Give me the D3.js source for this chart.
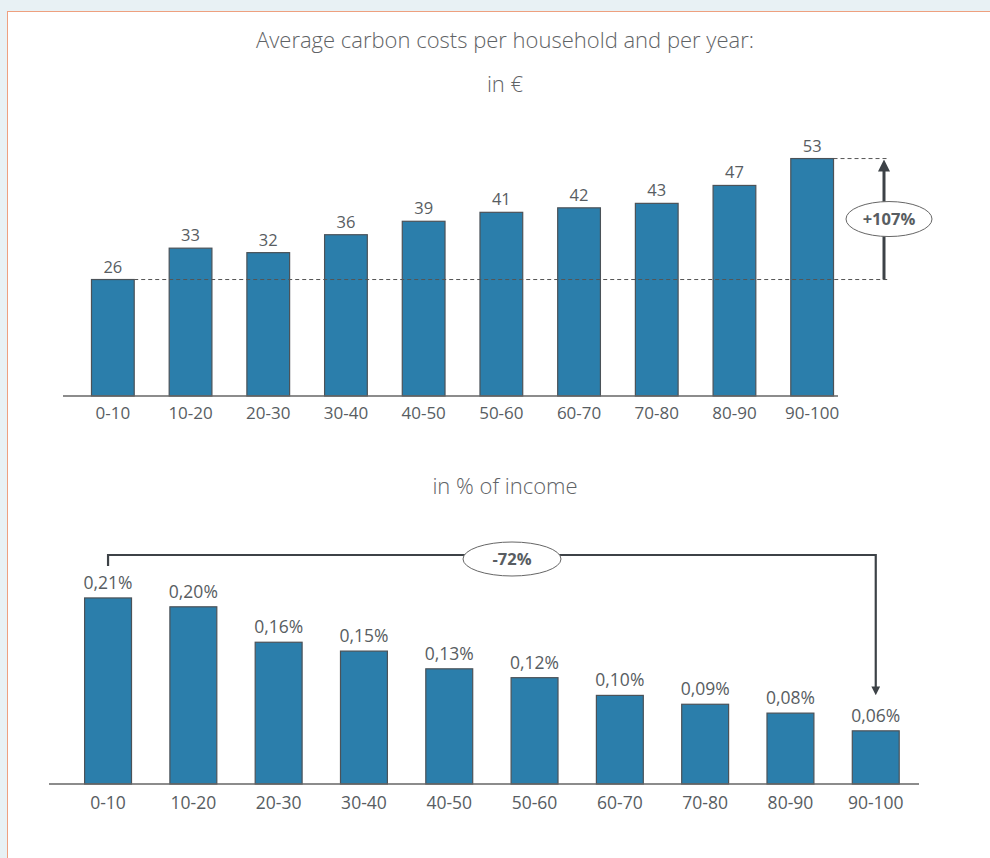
<!DOCTYPE html>
<html>
<head>
<meta charset="utf-8">
<script src="https://cdn.jsdelivr.net/npm/d3@7/dist/d3.min.js"></script>
<style>
  html, body { margin: 0; padding: 0; background: #e8f1f4; }
  svg { display: block; }
  .lbl { font-family: "Open Sans", "Noto Sans", sans-serif; fill: #585d62; }
  .ttl { font-family: "Open Sans", "Noto Sans", sans-serif; font-weight: 300; fill: #5f6366; }
</style>
</head>
<body>
<script>
// Income deciles
const categories = ["0-10", "10-20", "20-30", "30-40", "40-50", "50-60", "60-70", "70-80", "80-90", "90-100"];
// Average carbon costs per household and year, in €
const costs = [26, 33, 32, 36, 39, 41, 42, 43, 47, 53];
// Carbon costs as share of income, in %
const incomeShares = [0.21, 0.20, 0.16, 0.15, 0.13, 0.12, 0.10, 0.09, 0.08, 0.06];
// Change between lowest and highest decile
const costChange = "+107%";
const shareChange = "-72%";

const W = 990, H = 858;
const barFill = "#2b7eab", barStroke = "#4b5258", ink = "#3d4247";

const svg = d3.select("body").append("svg").attr("width", W).attr("height", H);

svg.append("defs").append("marker")
  .attr("id", "head").attr("viewBox", "0 0 10 10")
  .attr("refX", 5).attr("refY", 5)
  .attr("markerWidth", 4).attr("markerHeight", 4)
  .attr("markerUnits", "strokeWidth")
  .attr("orient", "auto")
  .append("path").attr("d", "M0,0 L10,5 L0,10 Z").attr("fill", ink);

// white panel
svg.append("rect").attr("x", 7.5).attr("y", 11.5).attr("width", W + 10).attr("height", H + 10)
  .attr("fill", "#fff").attr("stroke", "#eea07f").attr("stroke-width", 1);

// titles
svg.append("text").attr("class", "ttl").attr("x", 505).attr("y", 48)
  .attr("text-anchor", "middle").attr("font-size", 22)
  .text("Average carbon costs per household and per year:");
svg.append("text").attr("class", "ttl").attr("x", 505).attr("y", 92)
  .attr("text-anchor", "middle").attr("font-size", 22).text("in €");
svg.append("text").attr("class", "ttl").attr("x", 505).attr("y", 494)
  .attr("text-anchor", "middle").attr("font-size", 22).text("in % of income");

// ---------- Upper chart: costs in € ----------
const x1 = d3.scaleBand().domain(categories).range([74, 851]).paddingInner(0.45).paddingOuter(0.225);
const y1 = d3.scaleLinear().domain([0, 60]).range([396, 396 - 60 * 4.48]);
const upper = svg.append("g");

upper.selectAll("rect.bar").data(costs).join("rect").attr("class", "bar")
  .attr("x", (d, i) => x1(categories[i]))
  .attr("y", d => y1(d))
  .attr("width", x1.bandwidth())
  .attr("height", d => y1(0) - y1(d))
  .attr("fill", barFill).attr("stroke", barStroke).attr("stroke-width", 1.2);

upper.selectAll("text.val").data(costs).join("text").attr("class", "lbl val")
  .attr("x", (d, i) => x1(categories[i]) + x1.bandwidth() / 2)
  .attr("y", d => y1(d) - 7)
  .attr("text-anchor", "middle").attr("font-size", 16.5)
  .text(d => d);

upper.append("line").attr("x1", 63).attr("x2", 838).attr("y1", y1(0)).attr("y2", y1(0))
  .attr("stroke", "#666").attr("stroke-width", 1.5);

const ax1 = upper.append("g").attr("transform", `translate(0,${y1(0)})`)
  .call(d3.axisBottom(x1).tickSize(0).tickPadding(11));
ax1.select(".domain").remove();
ax1.selectAll("text").attr("class", "lbl").attr("font-size", 17).attr("dy", "0.71em").attr("fill", null);

// reference lines and growth arrow
const first = costs[0], last = costs[costs.length - 1];
const arrowX = 884;
upper.append("line")
  .attr("x1", x1(categories[0]) + x1.bandwidth()).attr("x2", 888)
  .attr("y1", y1(first)).attr("y2", y1(first))
  .attr("stroke", "#555").attr("stroke-width", 1).attr("stroke-dasharray", "4,3");
upper.append("line")
  .attr("x1", x1(categories[categories.length - 1]) + x1.bandwidth()).attr("x2", 888)
  .attr("y1", y1(last)).attr("y2", y1(last))
  .attr("stroke", "#555").attr("stroke-width", 1).attr("stroke-dasharray", "4,3");
upper.append("line")
  .attr("x1", arrowX).attr("x2", arrowX)
  .attr("y1", y1(first)).attr("y2", y1(last) + 7)
  .attr("stroke", ink).attr("stroke-width", 3)
  .attr("marker-end", "url(#head)");
const midUpper = (y1(first) + y1(last)) / 2;
upper.append("ellipse").attr("cx", 889).attr("cy", midUpper).attr("rx", 43).attr("ry", 17.5)
  .attr("fill", "#fff").attr("stroke", "#666").attr("stroke-width", 1);
upper.append("text").attr("class", "lbl").attr("x", 889).attr("y", midUpper + 6)
  .attr("text-anchor", "middle").attr("font-size", 16.5).attr("font-weight", "bold")
  .attr("fill", "#4a4f54").text(costChange);

// ---------- Lower chart: share of income ----------
const x2 = d3.scaleBand().domain(categories).range([65.4, 918.4]).paddingInner(0.45).paddingOuter(0.225);
const y2 = d3.scaleLinear().domain([0, 0.25]).range([784, 784 - 0.25 * 886]);
const lower = svg.append("g");
const fmtShare = d => d3.format(".2f")(d).replace(".", ",") + "%";

lower.selectAll("rect.bar").data(incomeShares).join("rect").attr("class", "bar")
  .attr("x", (d, i) => x2(categories[i]))
  .attr("y", d => y2(d))
  .attr("width", x2.bandwidth())
  .attr("height", d => y2(0) - y2(d))
  .attr("fill", barFill).attr("stroke", barStroke).attr("stroke-width", 1.2);

lower.selectAll("text.val").data(incomeShares).join("text").attr("class", "lbl val")
  .attr("x", (d, i) => x2(categories[i]) + x2.bandwidth() / 2)
  .attr("y", d => y2(d) - 9)
  .attr("text-anchor", "middle").attr("font-size", 17.5)
  .text(fmtShare);

lower.append("line").attr("x1", 49).attr("x2", 919).attr("y1", y2(0)).attr("y2", y2(0))
  .attr("stroke", "#666").attr("stroke-width", 1.5);

const ax2 = lower.append("g").attr("transform", `translate(0,${y2(0)})`)
  .call(d3.axisBottom(x2).tickSize(0).tickPadding(13));
ax2.select(".domain").remove();
ax2.selectAll("text").attr("class", "lbl").attr("font-size", 17.5).attr("dy", "0.71em").attr("fill", null);

// bracket from first to last decile
const bx0 = x2(categories[0]) + x2.bandwidth() / 2;
const bx1 = x2(categories[categories.length - 1]) + x2.bandwidth() / 2;
const by = 555;
lower.append("path")
  .attr("d", `M${bx0},566 V${by} H${bx1} V${y2(incomeShares[incomeShares.length - 1]) - 40}`)
  .attr("fill", "none").attr("stroke", ink).attr("stroke-width", 2.2)
  .attr("marker-end", "url(#head)");
lower.append("ellipse").attr("cx", 512).attr("cy", 559).attr("rx", 49).attr("ry", 17)
  .attr("fill", "#fff").attr("stroke", "#666").attr("stroke-width", 1);
lower.append("text").attr("class", "lbl").attr("x", 512).attr("y", 565)
  .attr("text-anchor", "middle").attr("font-size", 16.5).attr("font-weight", "bold")
  .attr("fill", "#4a4f54").text(shareChange);
</script>
</body>
</html>
